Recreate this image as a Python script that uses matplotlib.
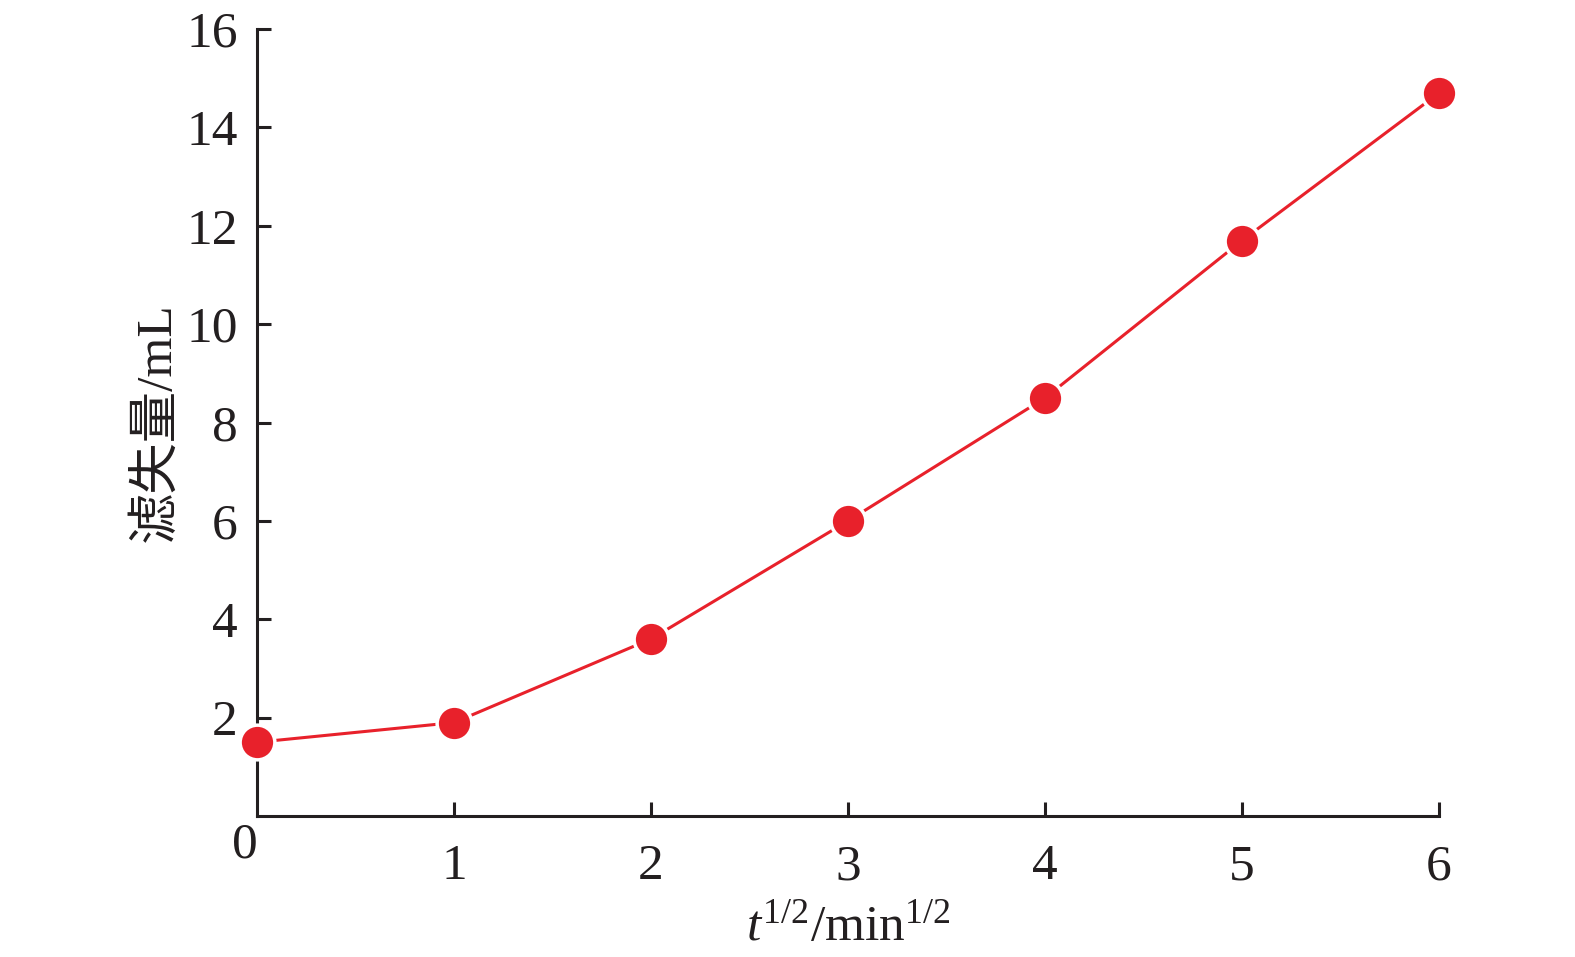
import matplotlib
matplotlib.use("Agg")
import matplotlib.pyplot as plt

# 数据
t_sqrt = [0, 1, 2, 3, 4, 5, 6]
loss = [1.5, 1.9, 3.6, 6.0, 8.5, 11.7, 14.7]
x_ticks = [1, 2, 3, 4, 5, 6]
y_ticks = [2, 4, 6, 8, 10, 12, 14, 16]

plt.rcParams['font.family'] = ['Liberation Serif', 'Noto Sans CJK SC']
plt.rcParams['mathtext.fontset'] = 'custom'
plt.rcParams['mathtext.rm'] = 'Liberation Serif'
plt.rcParams['mathtext.it'] = 'Liberation Serif:italic'

ink = '#231f20'
red = '#e8212b'

fig = plt.figure(figsize=(15.75, 9.57), dpi=100)
ax = fig.add_axes([0.1632, 0.1473, 0.7505, 0.8224])

ax.plot(t_sqrt, loss, color=red, lw=2.2, marker='o', ms=25,
        mfc=red, mec='white', mew=2.5, clip_on=False, zorder=3)

ax.set_xlim(0, 6)
ax.set_ylim(0, 16)
ax.set_xticks(x_ticks)
ax.set_yticks(y_ticks)

for s in ['top', 'right']:
    ax.spines[s].set_visible(False)
for s in ['left', 'bottom']:
    ax.spines[s].set_linewidth(2.2)
    ax.spines[s].set_color(ink)

ax.tick_params(direction='in', length=10, width=2.2, color=ink,
               labelsize=37, labelcolor=ink)
ax.tick_params(axis='y', pad=14)
ax.tick_params(axis='x', pad=20)

# 原点的 0
ax.annotate('0', xy=(0, 0), xycoords='data', xytext=(-9, -21),
            textcoords='offset points', ha='center', va='center',
            fontsize=37, color=ink)

ax.set_xlabel(r'$t^{1/2}$/min$^{1/2}$', fontsize=37, color=ink, labelpad=10)
ax.set_ylabel('滤失量/mL', fontsize=37, color=ink, labelpad=4)

fig.savefig('out.png', dpi=100)
